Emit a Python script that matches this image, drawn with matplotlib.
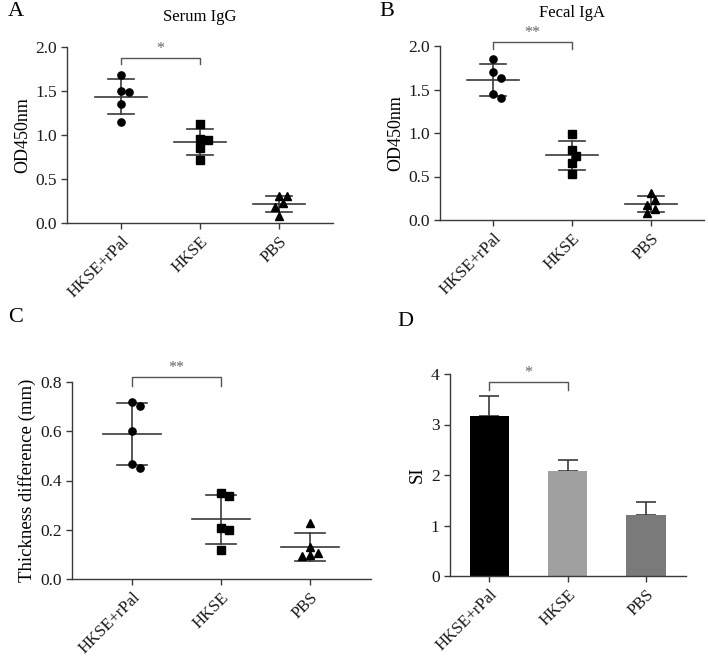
import numpy as np
import matplotlib
matplotlib.use("Agg")
import matplotlib.pyplot as plt
import matplotlib.transforms as mtransforms

plt.rcParams['font.family'] = 'serif'
plt.rcParams['font.serif'] = ['Liberation Serif', 'DejaVu Serif']

groups = ['HKSE+rPal', 'HKSE', 'PBS']

# panel A - serum IgG (OD450nm)
igg = [[1.686, 1.496, 1.485, 1.356, 1.144],
       [1.129, 0.955, 0.939, 0.848, 0.720],
       [0.303, 0.303, 0.227, 0.180, 0.083]]
# panel B - fecal IgA (OD450nm)
iga = [[1.847, 1.698, 1.637, 1.446, 1.400],
       [0.987, 0.803, 0.734, 0.658, 0.532],
       [0.306, 0.229, 0.176, 0.122, 0.084]]
# panel C - thickness difference (mm)
thick = [[0.719, 0.702, 0.601, 0.469, 0.449],
         [0.348, 0.339, 0.208, 0.200, 0.117],
         [0.228, 0.128, 0.107, 0.097, 0.092]]
# panel D - SI, mean and error
si_mean = [3.17, 2.07, 1.21]
si_err = [0.39, 0.23, 0.25]

sig = ['*', '**', '**', '*']

W, H = 708, 665
fig = plt.figure(figsize=(W / 100, H / 100), dpi=100)

def box(l, r, b, t):
    return [l / W, 1 - b / H, (r - l) / W, (b - t) / H]

axc = '#3a3a3a'

def style(ax, ylim, yticks, fmt):
    for s in ['top', 'right']:
        ax.spines[s].set_visible(False)
    for s in ['left', 'bottom']:
        ax.spines[s].set_color(axc)
        ax.spines[s].set_linewidth(1.0)
    ax.set_ylim(*ylim)
    ax.set_yticks(yticks)
    ax.set_yticklabels([fmt % v for v in yticks])
    ax.set_xticks(range(3))
    ax.set_xticklabels(groups, rotation=45, ha='right', rotation_mode='anchor')
    ax.tick_params(colors=axc, labelcolor='#1a1a1a', length=4, width=1.0)
    ax.tick_params(axis='y', labelsize=12.5)
    ax.tick_params(axis='x', labelsize=12)

def swarm(ax, x0, vals, diam=8.0):
    pts = ax.transData.transform([(x0, v) for v in vals])
    placed = []
    xs = [0.0] * len(vals)
    order = np.argsort(vals)[::-1]
    step = diam / 2
    for i in order:
        px, py = pts[i]
        for k in [0, 1, -1, 2, -2, 3, -3]:
            cx = px + k * step
            if all(np.hypot(cx - qx, py - qy) >= diam * 0.85 for qx, qy in placed):
                break
        placed.append((cx, py))
        xs[i] = ax.transData.inverted().transform((cx, py))[0]
    return xs

def bracket(ax, yfrac, drop, label):
    tr = mtransforms.blended_transform_factory(ax.transData, ax.transAxes)
    ax.plot([0, 0, 1, 1], [yfrac - drop, yfrac, yfrac, yfrac - drop], color='#555555',
            lw=1.0, transform=tr, clip_on=False)
    ax.text(0.5, yfrac + 0.005, label, transform=tr, ha='center', va='bottom',
            color='#666666', fontsize=11.5)

def dotplot(ax, data, markers):
    for i, vals in enumerate(data):
        m = np.mean(vals)
        sd = np.std(vals, ddof=1)
        ax.plot([i - 0.33, i + 0.33], [m, m], color=axc, lw=1.2)
        ax.plot([i, i], [m - sd, m + sd], color=axc, lw=1.2)
        for y in (m - sd, m + sd):
            ax.plot([i - 0.17, i + 0.17], [y, y], color=axc, lw=1.2)
        xs = swarm(ax, i, vals)
        ax.plot(xs, vals, linestyle='none', marker=markers[i], color='black',
                markersize=5.2, zorder=3)

marks = ['o', 's', '^']

# A
axA = fig.add_axes(box(67, 333, 223, 47))
axA.set_xlim(-0.684, 2.684)
style(axA, (0, 2.0), [0.0, 0.5, 1.0, 1.5, 2.0], '%.1f')
dotplot(axA, igg, marks)
axA.set_ylabel('OD450nm', fontsize=13, labelpad=3)
bracket(axA, 0.9375, 0.035, sig[0])

# B
axB = fig.add_axes(box(440, 704, 220, 46))
axB.set_xlim(-0.67, 2.67)
style(axB, (0, 2.0), [0.0, 0.5, 1.0, 1.5, 2.0], '%.1f')
dotplot(axB, iga, marks)
axB.set_ylabel('OD450nm', fontsize=13, labelpad=3)
bracket(axB, 1.023, 0.038, sig[1])

# C
axC = fig.add_axes(box(72, 371, 579, 382))
axC.set_xlim(-0.674, 2.685)
style(axC, (0, 0.8), [0.0, 0.2, 0.4, 0.6, 0.8], '%.1f')
dotplot(axC, thick, marks)
axC.set_ylabel('Thickness difference (mm)', fontsize=13.5, labelpad=3)
bracket(axC, 1.025, 0.045, sig[2])

# D
axD = fig.add_axes(box(450, 686, 576, 374))
axD.set_xlim(-0.5, 2.51)
style(axD, (0, 4), [0, 1, 2, 3, 4], '%d')
axD.bar(range(3), si_mean, width=0.5, color=['#000000', '#a0a0a0', '#7a7a7a'], zorder=2)
axD.errorbar(range(3), si_mean, yerr=[[0, 0, 0], si_err], fmt='none', ecolor=axc,
             elinewidth=1.2, capsize=7, capthick=1.2, zorder=1)
axD.set_ylabel('SI', fontsize=13.5, labelpad=4)
bracket(axD, 0.96, 0.04, sig[3])

# titles and panel letters
fig.text(200 / W, 1 - 17 / H, 'Serum IgG', ha='center', va='center', fontsize=12)
fig.text(572 / W, 1 - 13 / H, 'Fecal IgA', ha='center', va='center', fontsize=12)
for lab, x, y in [('A', 8, 12), ('B', 379, 12), ('C', 8, 317), ('D', 397, 321)]:
    fig.text(x / W, 1 - y / H, lab, ha='left', va='center', fontsize=16)

fig.savefig('out.png', dpi=100)
